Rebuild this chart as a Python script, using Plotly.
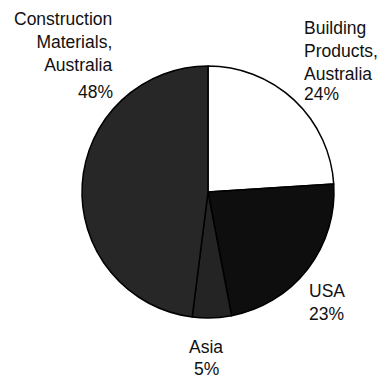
import plotly.graph_objects as go

# Segment shares, listed clockwise from 12 o'clock
segments = ["Building<br>Products,<br>Australia", "USA", "Asia", "Construction<br>Materials,<br>Australia"]
shares = [24, 23, 5, 48]
fills = ["#ffffff", "#0e0e0e", "#242424", "#272727"]

W, H = 383, 382
cx, cy, r = 208, 192, 126  # pie centre and radius in pixels (y from top)

fig = go.Figure(go.Pie(
    labels=[s.replace("<br>", " ") for s in segments],
    values=shares,
    sort=False,
    direction="clockwise",
    rotation=0,
    textinfo="none",
    hoverinfo="label+percent",
    marker=dict(colors=fills, line=dict(color="#000000", width=1.5)),
    domain=dict(x=[(cx - r) / W, (cx + r) / W],
                y=[(H - cy - r) / H, (H - cy + r) / H]),
    showlegend=False,
))

font = dict(family="Liberation Sans, Arial, sans-serif", size=17.5, color="#111111")

# Label placement: x px, name top px, percent top px, anchor
placements = [
    (303, 17, 83, "left"),
    (308, 280, 303, "left"),
    (206, 336, 358, "center"),
    (114, 8, 81, "right"),
]

annotations = []
for name, val, (px, ny, vy, xa) in zip(segments, shares, placements):
    for txt, py in ((name, ny), (f"{val}%", vy)):
        annotations.append(dict(
            x=px / W, y=1 - py / H, xref="paper", yref="paper",
            xanchor=xa, yanchor="top", align=xa, showarrow=False,
            text=txt, font=font, borderpad=0,
        ))

fig.update_layout(
    width=W, height=H,
    margin=dict(l=0, r=0, t=0, b=0),
    paper_bgcolor="white", plot_bgcolor="white",
    annotations=annotations,
)

fig.write_html("out.html")
